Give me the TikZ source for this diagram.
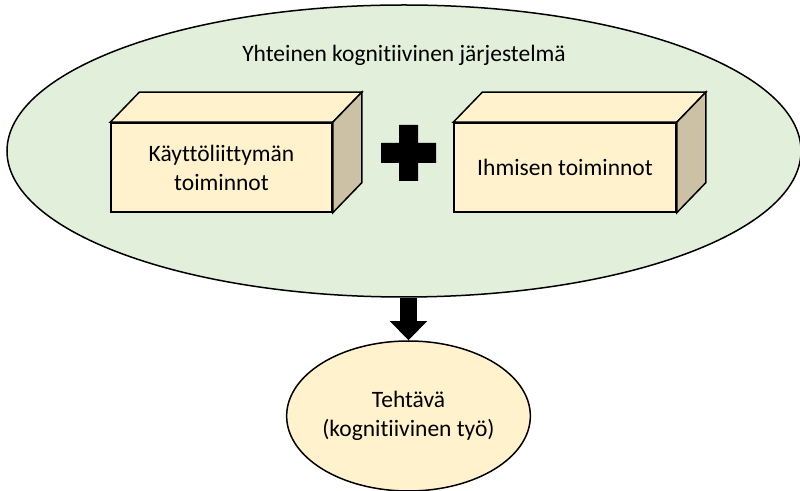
\documentclass[tikz,border=0pt]{standalone}
\usepackage{fontspec}
\setmainfont{Carlito}[Ligatures=NoCommon]
\usetikzlibrary{shapes.geometric,arrows.meta}

\definecolor{sysgreen}{HTML}{E2EFDA}
\definecolor{boxfront}{HTML}{FFF2CC}
\definecolor{boxside}{HTML}{CCC1A4}

\tikzset{
  every node/.style={font=\fontsize{23.5}{29}\selectfont},
  bubble/.style={ellipse, draw, line width=1.5pt, inner sep=0pt},
  boxface/.style={draw, line width=1.5pt, line join=miter, fill=boxfront},
  fatarrow/.style={line width=17pt, -{Triangle[width=36pt,length=19pt]}},
}

\begin{document}
\begin{tikzpicture}[x=1pt,y=1pt]
    \useasboundingbox (0,0) rectangle (800,490);
    \node[bubble, fill=sysgreen, minimum width=794pt, minimum height=292pt] (system) at (404,339) {};
    \node (title) at ([yshift=-51pt]system.north) {Yhteinen kognitiivinen järjestelmä};
    \node[boxface, minimum width=221pt, minimum height=89pt, align=center] (ui) at (221.5,322.5) {Käyttöliittymän\\toiminnot};
    \node[boxface, minimum width=222pt, minimum height=89pt, align=center] (human) at (565,322.5) {Ihmisen toiminnot};
    % top and side faces of the boxes
    \foreach \b in {ui,human} {
      \filldraw[boxface] (\b.north west) -- ++(29,30) -- ([shift={(29,30)}]\b.north east) -- (\b.north east) -- cycle;
      \filldraw[boxface, fill=boxside] (\b.north east) -- ++(29,30) -- ([shift={(29,30)}]\b.south east) -- (\b.south east) -- cycle;
    }
    \coordinate (plus) at (408.5,337);
    \fill ([shift={(-9.5,-28)}]plus) rectangle ([shift={(9.5,28)}]plus)
          ([shift={(-27.5,-10)}]plus) rectangle ([shift={(27.5,10)}]plus);
    \node[bubble, fill=boxfront, minimum width=242pt, minimum height=150pt, align=center] (task) at (408.5,74) {Tehtävä\\(kognitiivinen työ)};
    \draw[fatarrow] (task.north |- system.south) -- (task.north);
\end{tikzpicture}
\end{document}
